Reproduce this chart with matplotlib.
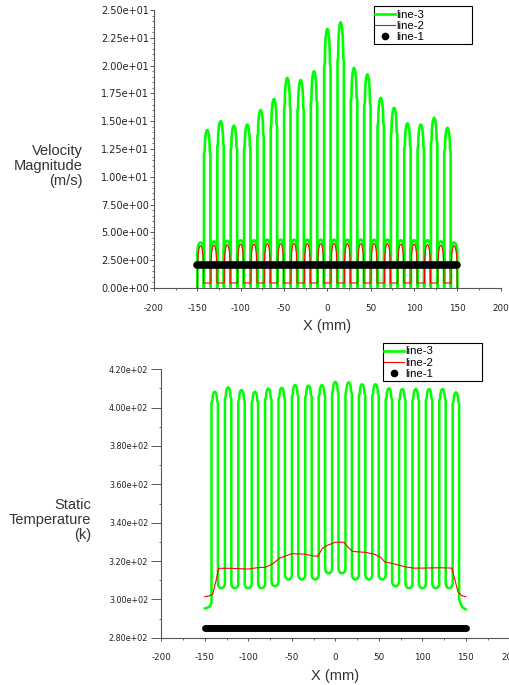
import numpy as np
import matplotlib.pyplot as plt
from matplotlib.lines import Line2D
from matplotlib.patches import Rectangle
from matplotlib.ticker import MultipleLocator, FormatStrFormatter

plt.rcParams['axes.unicode_minus'] = False

# channel centres (mm)
peak_x = [-138.6, -123.2, -107.8, -92.4, -77.0, -61.6, -46.2, -30.8, -15.4, 0.0,
          15.4, 30.8, 46.2, 61.6, 77.0, 92.4, 107.8, 123.2, 138.6]
gap_x = [-146.3, -130.9, -115.5, -100.1, -84.7, -69.3, -53.9, -38.5, -23.1, -7.7,
         7.7, 23.1, 38.5, 53.9, 69.3, 84.7, 100.1, 115.5, 130.9, 146.3]

# velocity magnitude (m/s)
vel_peak = [14.2, 15.0, 14.6, 14.7, 16.0, 17.0, 18.9, 18.7, 19.5, 23.3,
            23.9, 19.8, 19.2, 17.1, 16.2, 14.8, 14.7, 15.3, 14.4]
vel_gap_green = [4.1, 4.2, 4.25, 4.3, 4.3, 4.35, 4.35, 4.35, 4.35, 4.35,
                 4.35, 4.35, 4.35, 4.35, 4.35, 4.3, 4.3, 4.3, 4.2, 4.1]
vel_gap_red = [3.8, 3.85, 3.9, 3.95, 3.95, 4.0, 4.0, 4.0, 4.0, 4.0,
               4.0, 4.0, 4.0, 4.0, 4.0, 3.95, 3.95, 3.9, 3.85, 3.8]
vel_base = 0.1
vel_trough_red = 0.45
vel_line1 = 2.05

# static temperature (K)
temp_peak = [408.3, 410.6, 409.2, 408.3, 410.0, 410.4, 411.8, 411.5, 411.8, 413.5,
             413.2, 412.2, 412.2, 410.1, 409.7, 409.7, 409.7, 409.7, 408.0]
temp_gap = [305.8, 305.8, 305.8, 305.8, 306.9, 310.4, 310.4, 310.4, 313.6,
            313.6, 310.4, 310.4, 310.4, 306.9, 305.8, 305.8, 305.8, 305.8]
temp_start_x = [-150, -146, -143.5, -142.3]
temp_start_y = [295.3, 295.8, 296.8, 298.5]
temp_end_x = [142.3, 143.5, 146, 150]
temp_end_y = [300.5, 298.5, 295.8, 294.8]
red_t_x = [-150, -145, -141, -137, -134, -120, -100, -90, -80, -72, -64, -50, -35, -25,
           -20, -15, -10, 0, 10, 15, 20, 35, 45, 52, 57, 65, 80, 90, 100, 120, 134,
           137, 141, 145, 150]
red_t_y = [301.4, 301.8, 302.5, 310, 316.2, 316.2, 315.8, 316.5, 316.8, 318.5, 321.5,
           323.8, 323.6, 322.6, 322.5, 326.5, 328, 329.8, 329.8, 327, 325, 324.5, 323.5,
           322, 319.5, 318.8, 317, 316.3, 316.3, 316.5, 316.3, 311, 304, 302, 301.4]
temp_line1 = 285.0
line1_x = [-150, 150]

GREEN = '#00ff00'
RED = '#ff0000'
AXC = '#555555'


def peak_shape(c, w, top, sh, sh2, tip_w, base=None):
    th = np.linspace(np.pi, 0, 15)
    xs = [c - w] + list(c + tip_w * np.cos(th)) + [c + w]
    ys = [sh] + list(sh2 + (top - sh2) * np.sin(th)) + [sh]
    if base is not None:
        xs = [c - w] + xs + [c + w]
        ys = [base] + ys + [base]
    return xs, ys


# green serpentine, velocity
gx, gy = [], []
for k in range(len(gap_x)):
    top = vel_gap_green[k]
    xs, ys = peak_shape(gap_x[k], 3.7, top, 0.75 * top, 0.75 * top, 3.7, vel_base)
    gx += xs; gy += ys
    if k < len(peak_x):
        h = vel_peak[k]
        xs, ys = peak_shape(peak_x[k], 3.7, h, 0.85 * h, 0.87 * h, 2.9, vel_base)
        gx += xs; gy += ys

# red, velocity
rx, ry = [-150], [0.0]
for k in range(len(gap_x)):
    th = np.linspace(np.pi, 0, 15)
    rx += list(gap_x[k] + 3.5 * np.cos(th))
    ry += list(vel_trough_red + (vel_gap_red[k] - vel_trough_red) * np.sin(th) ** 0.6)
rx += [150]; ry += [0.0]

# green serpentine, temperature
tx, ty = list(temp_start_x), list(temp_start_y)
for k in range(len(peak_x)):
    h = temp_peak[k]
    xs, ys = peak_shape(peak_x[k], 3.7, h, h - 6, h - 4.5, 2.6)
    tx += xs; ty += ys
    if k < len(temp_gap):
        th = np.linspace(np.pi, 2 * np.pi, 13)
        u = temp_gap[k]
        tx += list(gap_x[k + 1] + 4.0 * np.cos(th))
        ty += list(u + 2.5 + 2.5 * np.sin(th))
tx += temp_end_x; ty += temp_end_y

fig = plt.figure(figsize=(5.1, 6.85), dpi=100)
ax1 = fig.add_axes([154 / 510, 1 - 288 / 685, 346.7 / 510, 278 / 685])
ax2 = fig.add_axes([161.3 / 510, 1 - 637.7 / 685, 348 / 510, 268.4 / 685])

ax1.plot(gx, gy, color=GREEN, lw=1.9)
ax1.plot(rx, ry, color=RED, lw=0.8)
ax1.plot(line1_x, [vel_line1] * 2, color='black', lw=5.5, solid_capstyle='round')

ax2.plot(tx, ty, color=GREEN, lw=1.8)
ax2.plot(red_t_x, red_t_y, color=RED, lw=0.8)
ax2.plot(line1_x, [temp_line1] * 2, color='black', lw=5.0, solid_capstyle='round')

ax1.set_xlim(-200, 200)
ax1.set_ylim(0, 25)
ax1.yaxis.set_major_locator(MultipleLocator(2.5))
ax1.yaxis.set_minor_locator(MultipleLocator(0.5))
ax2.set_xlim(-200, 200)
ax2.set_ylim(280, 420)
ax2.yaxis.set_major_locator(MultipleLocator(20))
ax2.yaxis.set_minor_locator(MultipleLocator(10))

for ax, ysize, ylen, ypad, xpad in [(ax1, 7.0, 3, 0.6, 9.0), (ax2, 5.8, 7, 2.4, 8.5)]:
    ax.xaxis.set_major_locator(MultipleLocator(50))
    ax.xaxis.set_minor_locator(MultipleLocator(25))
    ax.yaxis.set_major_formatter(FormatStrFormatter('%.2e'))
    for s in ['top', 'right']:
        ax.spines[s].set_visible(False)
    for s in ['left', 'bottom']:
        ax.spines[s].set_color(AXC)
        ax.spines[s].set_linewidth(0.8)
    ax.tick_params(axis='y', which='major', length=ylen, width=0.7, color=AXC,
                   labelsize=ysize, pad=ypad, labelcolor='#222222')
    ax.tick_params(axis='y', which='minor', length=1.5, width=0.6, color=AXC)
    ax.tick_params(axis='x', which='major', length=2.5, width=0.7, color=AXC,
                   labelsize=6.3, pad=xpad, labelcolor='#222222')
    ax.tick_params(axis='x', which='minor', length=1.5, width=0.6, color=AXC)

lab = dict(family='Liberation Sans', fontsize=10.5, color='#333333')
fig.text(83 / 510, 1 - 166 / 685, 'Velocity\nMagnitude\n(m/s)', ha='right', va='center',
         multialignment='right', linespacing=1.05, **lab)
fig.text(91 / 510, 1 - 520 / 685, 'Static\nTemperature\n(k)', ha='right', va='center',
         multialignment='right', linespacing=1.05, **lab)
fig.text(327 / 510, 1 - 326 / 685, 'X (mm)', ha='center', va='center', **lab)
fig.text(335 / 510, 1 - 676 / 685, 'X (mm)', ha='center', va='center', **lab)

handles = [Line2D([], [], color=GREEN, lw=1.9),
           Line2D([], [], color=RED, lw=0.8),
           Line2D([], [], color='black', marker='o', markersize=4.5, lw=0)]
names = ['line-3', 'line-2', 'line-1']
for box, anchor in [((374, 5.7, 98, 38.6), (375, 9.5)), ((383.3, 343.3, 98.4, 37.7), (384, 346.5))]:
    x0, y0, w, h = box
    fig.patches.append(Rectangle((x0 / 510, 1 - (y0 + h) / 685), w / 510, h / 685,
                                 transform=fig.transFigure, fill=False,
                                 edgecolor='black', lw=0.8))
    fig.legend(handles, names, loc='upper left',
               bbox_to_anchor=(anchor[0] / 510, 1 - anchor[1] / 685),
               frameon=False, borderpad=0, borderaxespad=0, handlelength=1.75,
               handletextpad=0.15, labelspacing=0.13,
               prop={'family': 'Liberation Sans', 'size': 8.2})

fig.savefig('out.png', dpi=100)
